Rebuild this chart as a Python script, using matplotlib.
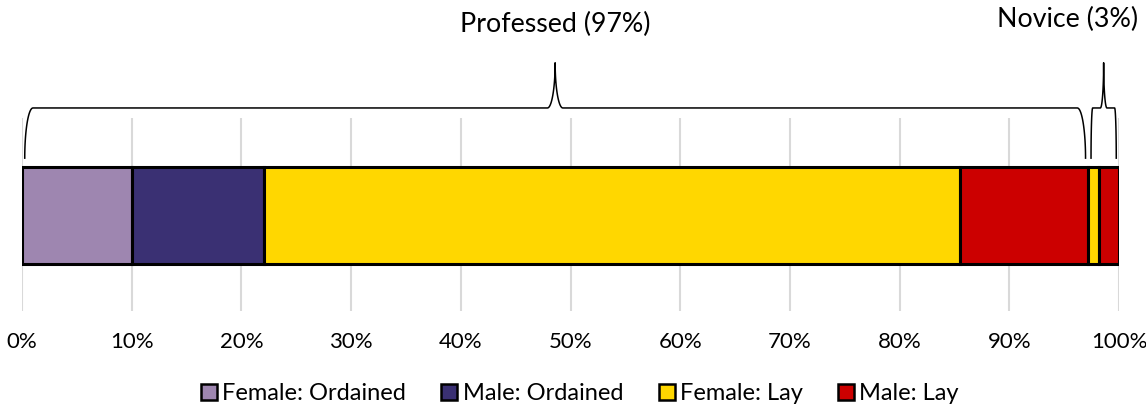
import numpy as np
import matplotlib
matplotlib.use('Agg')
import matplotlib.pyplot as plt
from matplotlib.patches import Patch

plt.rcParams['font.family'] = ['Lato', 'DejaVu Sans']

# data (% of all members)
categories = ['Female: Ordained', 'Male: Ordained', 'Female: Lay', 'Male: Lay']
colors = ['#9e86b0', '#3a3073', '#ffd700', '#cc0000']
professed = [10.0, 12.1, 63.4, 11.7]
novice = [0.0, 0.0, 1.0, 1.8]
groups = ['Professed', 'Novice']
group_pct = ['97%', '3%']
ticks = np.arange(0, 101, 10)


def brace(ax, x0, x1, y0, y1, y2, r=0.75, w=0.7, inset=0.25):
    # curly brace between x0 and x1, base y0, flat y1, tip y2
    x0 = x0 + inset
    x1 = x1 - inset
    mid = (x0 + x1) / 2
    t = np.linspace(0, np.pi / 2, 30)
    h = y1 - y0
    hc = y2 - y1
    # left corner
    lx = x0 + r * (1 - np.cos(t))
    ly = y0 + h * np.sin(t)
    # cusp left half
    cx = mid - w + w * np.sin(t)
    cy = y1 + hc * (1 - np.cos(t))
    xs = np.concatenate([lx, cx, (2 * mid - cx)[::-1], (x1 + x0 - lx)[::-1]])
    ys = np.concatenate([ly, cy, cy[::-1], ly[::-1]])
    ax.plot(xs, ys, color='black', lw=1.1, clip_on=False, solid_joinstyle='round')
    return mid


fig = plt.figure(figsize=(11.46, 4.09), dpi=100)
ax = fig.add_axes([22 / 1146, 98 / 409, 1097 / 1146, 193 / 409])

left = 0.0
for vals in (professed, novice):
    for v, c in zip(vals, colors):
        if v > 0:
            ax.barh(0.495, v, left=left, height=0.5, color=c,
                    edgecolor='black', linewidth=2.2, zorder=3)
        left += v

ax.set_xlim(0, 100)
ax.set_ylim(0, 1)
ax.set_xticks(ticks)
ax.set_xticklabels([f'{t}%' for t in ticks], fontsize=16)
ax.set_yticks([])
ax.grid(axis='x', color='#d9d9d9', lw=1.5, zorder=0)
ax.tick_params(axis='x', length=0, pad=15)
for s in ax.spines.values():
    s.set_visible(False)

# braces
p_total = sum(professed)
n_total = sum(novice)
m1 = brace(ax, 0, p_total, 0.792, 1.052, 1.286)
m2 = brace(ax, p_total, p_total + n_total, 0.792, 1.052, 1.286, r=0.15, w=0.3)
ax.annotate(f'{groups[0]} ({group_pct[0]})', (m1, 1.487), ha='center', va='center',
            fontsize=19.3, annotation_clip=False)
ax.annotate(f'{groups[1]} ({group_pct[1]})', (m2, 1.513), xytext=(-26, 0),
            textcoords='offset points', ha='center', va='center',
            fontsize=19.3, annotation_clip=False)

handles = [Patch(facecolor=c, edgecolor='black', linewidth=1.8) for c in colors]
fig.legend(handles, categories, loc='center', bbox_to_anchor=(0.506, 0.037),
           ncol=4, frameon=False, fontsize=17, handlelength=0.68, handleheight=0.68,
           handletextpad=0.22, columnspacing=1.5, borderpad=0)

fig.savefig('out.png', dpi=100)
